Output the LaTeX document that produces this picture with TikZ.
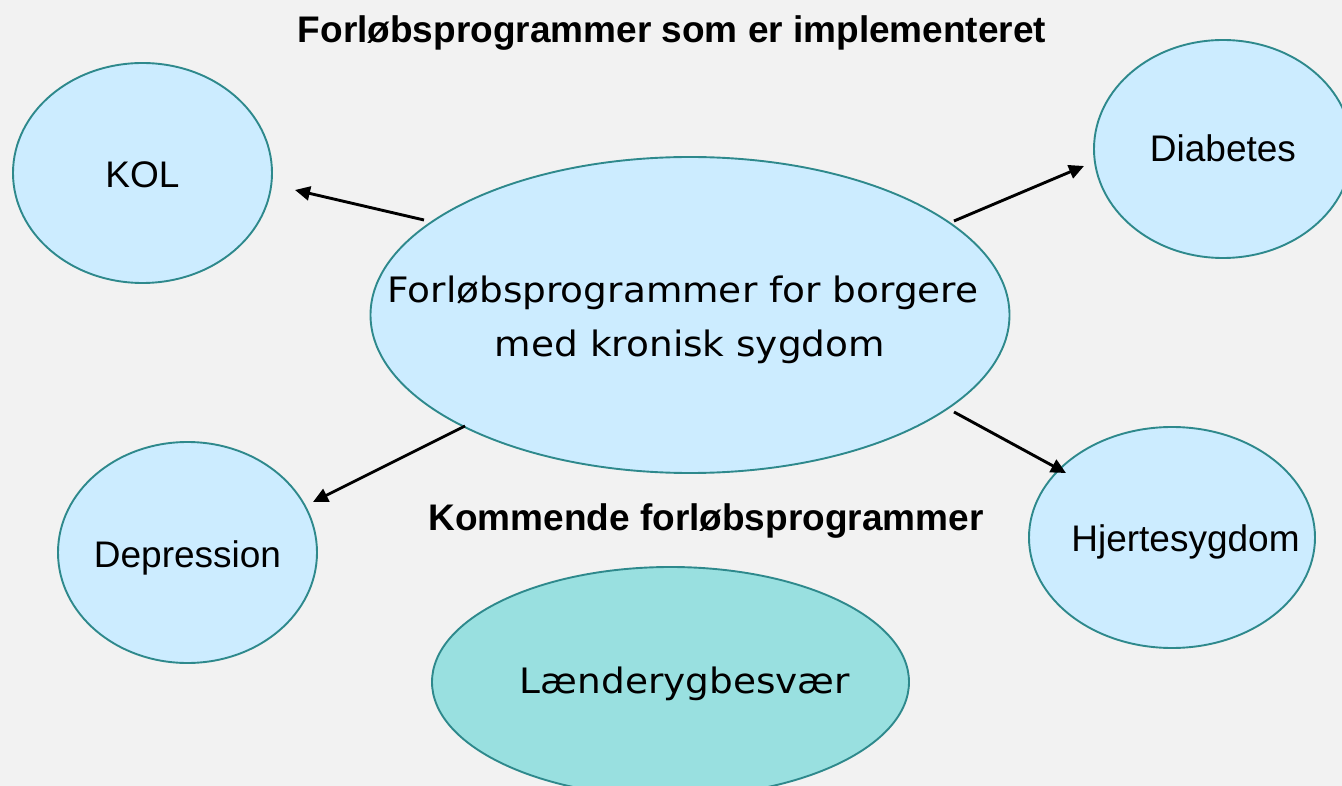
\documentclass[tikz,border=0pt]{standalone}
\usepackage{fontspec}
\setmainfont{Liberation Sans}
\newfontfamily\vfont{DejaVu Sans}
\usetikzlibrary{shapes.geometric,arrows.meta}
\definecolor{bgc}{RGB}{242,242,242}
\definecolor{edgec}{RGB}{46,137,140}
\definecolor{fillc}{RGB}{204,236,255}
\definecolor{fillt}{RGB}{153,224,224}
\newcommand{\wider}[1]{\scalebox{1.07}[1]{#1}}
\tikzset{
  bubble/.style={ellipse, draw=edgec, line width=1.9pt, fill=fillc, inner sep=0pt},
  lab/.style={anchor=base, inner sep=0pt, font=\fontsize{37}{44}\selectfont},
  vlab/.style={anchor=base, inner sep=0pt, font=\vfont\fontsize{35}{52}\selectfont},
  ttl/.style={anchor=base, inner sep=0pt, font=\bfseries\fontsize{37}{44}\selectfont},
  arr/.style={-{Triangle[length=15pt,width=14pt]}, line width=2.9pt, black}
}
\begin{document}
\begin{tikzpicture}[x=1pt,y=-1pt]
\useasboundingbox (0,0) rectangle (1342,786);
\clip (0,0) rectangle (1342,786);
\fill[bgc] (0,0) rectangle (1342,786);

\node[bubble, minimum width=259pt, minimum height=220pt] (kol) at (142.5,173) {};
\node[bubble, minimum width=258pt, minimum height=218pt] (diab) at (1223,149) {};
\node[bubble, minimum width=639pt, minimum height=316pt] (main) at (690,315) {};
\node[bubble, minimum width=259pt, minimum height=221pt] (dep) at (187.5,552.5) {};
\node[bubble, minimum width=286pt, minimum height=221pt] (hjerte) at (1172,537.5) {};
\node[bubble, fill=fillt, minimum width=477pt, minimum height=230pt] (laend) at (670.5,682) {};

\node[ttl] (t1) at (672,43) {Forløbsprogrammer som er implementeret};
\node[ttl] (t2) at (706,530) {Kommende forløbsprogrammer};

\node[lab] (kolt) at (142.5,188) {KOL};
\node[lab] (diabt) at (1223,162) {Diabetes};
\node[lab] (dept) at (187.5,567) {Depression};
\node[lab] (hjertet) at (1185.5,551) {Hjertesygdom};
\node[vlab] (mainl1) at (683,303) {\wider{Forløbsprogrammer for borgere}};
\node[vlab] (mainl2) at (690,356) {\wider{med kronisk sygdom}};
\node[vlab] (laendt) at (685,693) {\wider{Lænderygbesvær}};

\coordinate (a1s) at (424,220);
\coordinate (a1e) at (295,190);
\coordinate (a2s) at (954,221);
\coordinate (a2e) at (1084,166);
\coordinate (a3s) at (465,426);
\coordinate (a3e) at (313,502);
\coordinate (a4s) at (954,412);
\coordinate (a4e) at (1066,473);
\draw[arr] (a1s) -- (a1e);
\draw[arr] (a2s) -- (a2e);
\draw[arr] (a3s) -- (a3e);
\draw[arr] (a4s) -- (a4e);
\end{tikzpicture}
\end{document}
